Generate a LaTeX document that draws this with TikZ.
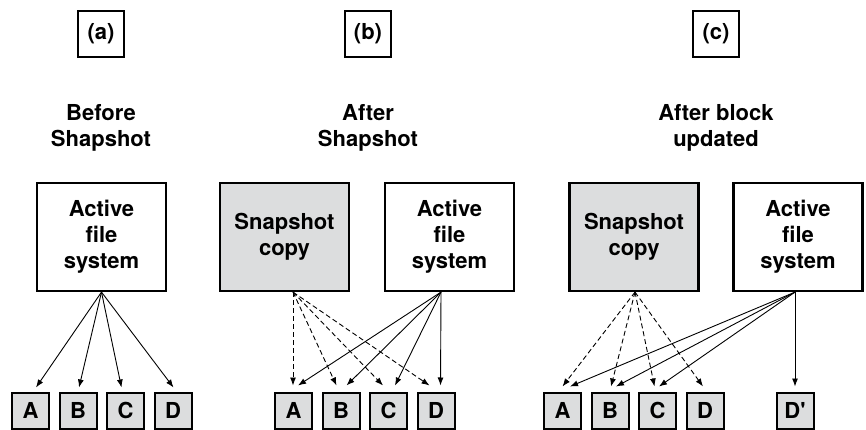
\documentclass[tikz,border=0pt]{standalone}
\usepackage{fontspec}
\setmainfont{TeX Gyre Heros}
\usepackage{tikz}
\usetikzlibrary{arrows.meta}
\usetikzlibrary{positioning}
\definecolor{blkgray}{RGB}{220,221,222}
\tikzset{lbl/.style={rectangle,draw=black,line width=1.8pt,minimum size=46pt,inner sep=0pt}}
\tikzset{heading/.style={align=center,inner sep=0pt}}
\tikzset{fsbox/.style={rectangle,draw=black,line width=2.2pt,fill=white,minimum width=129pt,minimum height=108pt,align=center,inner sep=0pt}}
\tikzset{snapbox/.style={fsbox,fill=blkgray}}
\tikzset{blk/.style={rectangle,draw=black,line width=2pt,fill=blkgray,minimum width=37pt,minimum height=36pt,inner sep=0pt}}
\tikzset{ptr/.style={-{Latex[length=8pt,width=6pt]},line width=0.9pt}}
\tikzset{oldptr/.style={ptr,dash pattern=on 5pt off 3pt}}

\begin{document}
\begin{tikzpicture}[x=1pt,y=-1pt,node distance=8.5pt,font=\bfseries\fontsize{22}{26}\selectfont]
    \useasboundingbox (0,0) rectangle (866,430);
    % (a) before the snapshot
    \node[lbl] (la) at (101,34) {(a)};
    \node[heading] (ha) at (101,128) {Before\\Shapshot};
    \node[fsbox] (fsa) at (101.5,237) {Active\\file\\system};
    \node[blk] (a1) at (30.5,410.5) {A};
    \node[blk, right=of a1] (a2) {B};
    \node[blk, right=of a2] (a3) {C};
    \node[blk, right=of a3] (a4) {D};
    % (b) after the snapshot
    \node[lbl] (lb) at (368,34) {(b)};
    \node[heading] (hb) at (368,128) {After\\Shapshot};
    \node[snapbox] (snb) at (284.5,237) {Snapshot\\copy};
    \node[fsbox] (fsb) at (449.5,237) {Active\\file\\system};
    \node[blk] (b1) at (293.5,410.5) {A};
    \node[blk, right=of b1] (b2) {B};
    \node[blk, right=of b2] (b3) {C};
    \node[blk, right=of b3] (b4) {D};
    % (c) after block D is rewritten
    \node[lbl] (lc) at (716,34) {(c)};
    \node[heading] (hc) at (716,128) {After block\\updated};
    \node[snapbox] (snc) at (634,237) {Snapshot\\copy};
    \node[fsbox] (fsc) at (798,237) {Active\\file\\system};
    \node[blk] (c1) at (562.5,410.5) {A};
    \node[blk, right=of c1] (c2) {B};
    \node[blk, right=of c2] (c3) {C};
    \node[blk, right=of c3] (c4) {D};
    \node[blk] (c5) at (795,410.5) {D\textquotesingle};

    \draw[ptr] (fsa.south) -- ([xshift=5.5pt,yshift=4pt]a1.north);
    \draw[ptr] (fsa.south) -- ([xshift=1pt,yshift=4pt]a2.north);
    \draw[ptr] (fsa.south) -- ([xshift=-4pt,yshift=4pt]a3.north);
    \draw[ptr] (fsa.south) -- ([xshift=0.5pt,yshift=4pt]a4.north);

    \draw[oldptr] ([xshift=8.5pt]snb.south) -- ([xshift=-0.5pt,yshift=6pt]b1.north);
    \draw[oldptr] ([xshift=8.5pt]snb.south) -- ([xshift=-4.5pt,yshift=6pt]b2.north);
    \draw[oldptr] ([xshift=8.5pt]snb.south) -- ([xshift=-5.5pt,yshift=6pt]b3.north);
    \draw[oldptr] ([xshift=8.5pt]snb.south) -- ([xshift=-6.5pt,yshift=6pt]b4.north);
    \draw[ptr] ([xshift=-8.5pt]fsb.south) -- ([xshift=4.5pt,yshift=6pt]b1.north);
    \draw[ptr] ([xshift=-8.5pt]fsb.south) -- ([xshift=5.5pt,yshift=6pt]b2.north);
    \draw[ptr] ([xshift=-8.5pt]fsb.south) -- ([xshift=6.5pt,yshift=6pt]b3.north);
    \draw[ptr] ([xshift=-8.5pt]fsb.south) -- ([xshift=4.5pt,yshift=6pt]b4.north);

    \draw[oldptr] ([xshift=1pt]snc.south) -- ([xshift=0pt,yshift=5pt]c1.north);
    \draw[oldptr] ([xshift=1pt]snc.south) -- ([xshift=1pt,yshift=5pt]c2.north);
    \draw[oldptr] ([xshift=1pt]snc.south) -- ([xshift=-3pt,yshift=5pt]c3.north);
    \draw[oldptr] ([xshift=1pt]snc.south) -- ([xshift=-2pt,yshift=5pt]c4.north);
    \draw[ptr] ([xshift=-3pt]fsc.south) -- ([xshift=7.5pt,yshift=5pt]c1.north);
    \draw[ptr] ([xshift=-3pt]fsc.south) -- ([xshift=6pt,yshift=5pt]c2.north);
    \draw[ptr] ([xshift=-3pt]fsc.south) -- ([xshift=1.5pt,yshift=5pt]c3.north);
    \draw[ptr] ([xshift=-3pt]fsc.south) -- ([yshift=5pt]c5.north);
\end{tikzpicture}
\end{document}
